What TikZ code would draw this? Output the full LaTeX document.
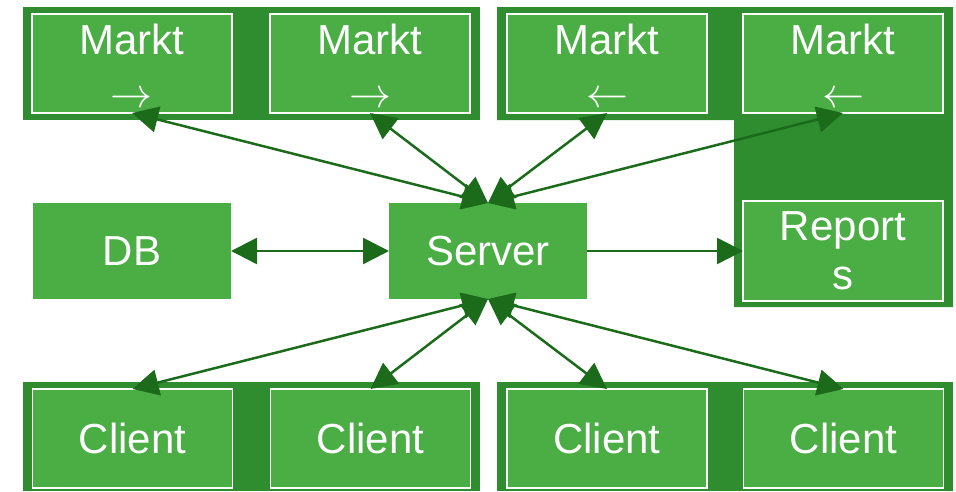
\documentclass[tikz,border=0pt]{standalone}
\usepackage{fontspec}
\usepackage{graphicx}
\setmainfont{Liberation Sans}
\usetikzlibrary{arrows.meta}
\definecolor{boxgreen}{RGB}{74,174,68}
\definecolor{groupgreen}{RGB}{47,140,47}
\definecolor{linkgreen}{RGB}{27,107,27}
\tikzset{
  label text/.style={text=white, font=\fontsize{42}{49}\selectfont, align=center,
    inner sep=0pt, outer sep=0pt},
  unit/.style={label text, fill=boxgreen, draw=white, line width=1.5pt,
    minimum width=200pt, minimum height=99pt},
  solo/.style={label text, fill=boxgreen, minimum width=198pt, minimum height=96pt},
  group/.style={fill=groupgreen},
  link/.style={draw=linkgreen, line width=2.5pt,
    arrows={-}, >={Triangle[length=26pt,width=26pt]}}
}
% direction marks drawn as enlarged math arrows (depth hidden so the text stays put)
\newcommand{\toR}{\raisebox{-4pt}[18pt][0pt]{\resizebox{42pt}{!}{\normalsize$\rightarrow$}}}
\newcommand{\toL}{\raisebox{-4pt}[18pt][0pt]{\resizebox{42pt}{!}{\normalsize$\leftarrow$}}}
\begin{document}
\begin{tikzpicture}[x=1pt,y=-1pt]
\useasboundingbox (0,0) rectangle (956,491);

% group backgrounds
\fill[group] (23,7) rectangle (480,120);
\fill[group] (497,7) -- (953,7) -- (953,307) -- (734,307) -- (734,120) -- (497,120) -- cycle;
\fill[group] (23,382) rectangle (480,491);
\fill[group] (497,382) rectangle (953,491);

% market units
\node[unit] (m1) at (132,63.5) {Markt\\\toR};
\node[unit] (m2) at (370,63.5) {Markt\\\toR};
\node[unit] (m3) at (607,63.5) {Markt\\\toL};
\node[unit] (m4) at (843,63.5) {Markt\\\toL};

% reports unit
\node[unit, minimum height=100pt] (rep) at (843,251) {Report\\s};

% database and server
\node[solo] (db) at (132,251) {DB};
\node[solo] (srv) at (488,251) {Server};

% client units
\node[unit] (c1) at (132.5,438.5) {Client};
\node[unit] (c2) at (370.5,438.5) {Client};
\node[unit] (c3) at (607,438.5) {Client};
\node[unit] (c4) at (843.5,438.5) {Client};

% connections
\draw[link,<->] (db.east) -- (srv.west);
\draw[link,->] (srv.east) -- (rep.west);
\foreach \m in {m1,m2,m3,m4}
  \draw[link,<->] (\m.south) -- (srv.north);
\foreach \c in {c1,c2,c3,c4}
  \draw[link,<->] (srv.south) -- (\c.north);
\end{tikzpicture}
\end{document}
